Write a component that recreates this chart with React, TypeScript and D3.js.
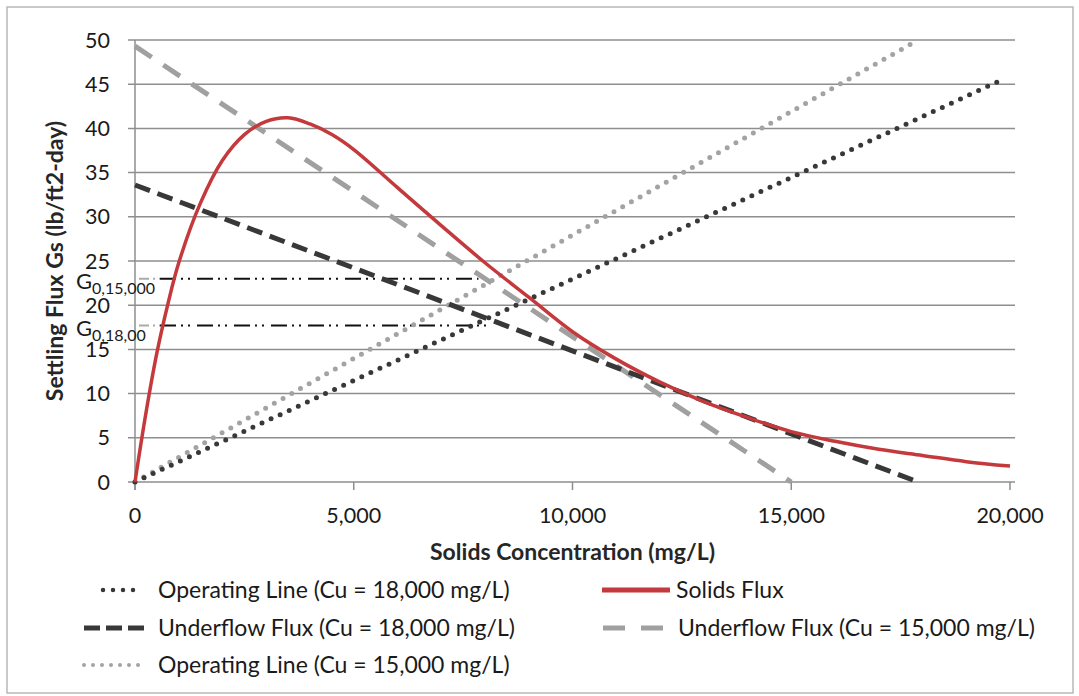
import React from 'react';
import * as d3 from 'd3';

// solids flux curve
const concentration = [0, 250, 500, 750, 1000, 1500, 2000, 2500, 3000, 3500, 4000, 4500, 5000, 6000, 7000, 8000, 9000, 10000, 11000, 12000, 13000, 14000, 15000, 16000, 17000, 18000, 19000, 20000];
const solidsFlux = [0, 7.8, 14.6, 20.1, 24.8, 31.6, 36.4, 39.3, 40.8, 41.2, 40.5, 39.3, 37.6, 33.3, 29, 24.8, 20.9, 17.0, 13.9, 11.3, 9.1, 7.3, 5.7, 4.6, 3.7, 3.0, 2.3, 1.8];

// straight lines (end points)
const opLine18C = [0, 19900];
const opLine18G = [0, 45.7];
const underflow18C = [0, 17900];
const underflow18G = [33.6, 0];
const underflow15C = [0, 15000];
const underflow15G = [49.3, 0];
const opLine15C = [0, 17900];
const opLine15G = [0, 50];

// G0 levels
const g0Labels = ['0,15,000', '0,18,00'];
const g0Values = [23.0, 17.7];
const g0EndC = [7850, 8050];

const yTicks = [0, 5, 10, 15, 20, 25, 30, 35, 40, 45, 50];
const xTicks = [0, 5000, 10000, 15000, 20000];

const legendItems = [
  'Operating Line (Cu = 18,000 mg/L)',
  'Underflow Flux (Cu = 18,000 mg/L)',
  'Operating Line (Cu = 15,000 mg/L)',
  'Solids Flux',
  'Underflow Flux (Cu = 15,000 mg/L)',
];

const FONT = 'Lato, "Open Sans", sans-serif';

export default function App() {
  const x = d3.scaleLinear().domain([0, 20000]).range([135, 1010]);
  const y = d3.scaleLinear().domain([0, 50]).range([482, 40]);

  const line = d3.line<[number, number]>().x(d => x(d[0])).y(d => y(d[1]));
  const curve = d3.line<[number, number]>().x(d => x(d[0])).y(d => y(d[1])).curve(d3.curveCatmullRom.alpha(0.5));
  const pts = (cs: number[], gs: number[]) => cs.map((c, i) => [c, gs[i]] as [number, number]);

  const fmt = d3.format(',');

  const dotDark = { stroke: '#383838', strokeWidth: 5, strokeDasharray: '0 10', strokeLinecap: 'round' as const };
  const dotLight = { stroke: '#a3a3a3', strokeWidth: 5, strokeDasharray: '0 10', strokeLinecap: 'round' as const };
  const dashDark = { stroke: '#383838', strokeWidth: 5, strokeDasharray: '16 8' };
  const dashLight = { stroke: '#a0a0a0', strokeWidth: 5, strokeDasharray: '20 14' };
  const red = { stroke: '#c4393c', strokeWidth: 3.5 };

  const rows = [598, 636, 673];

  return (
    <svg width={1079} height={696} style={{ position: 'absolute', left: 0, top: 0 }} fontFamily={FONT}>
      <rect x={0} y={0} width={1079} height={696} fill="#fff" />
      <rect x={7} y={7} width={1066} height={686} fill="none" stroke="#b8b8b8" strokeWidth={1.5} />

      {/* gridlines */}
      {yTicks.map(t => (
        <line key={t} x1={x(0) - 7} x2={x(20000) + 5} y1={y(t)} y2={y(t)} stroke="#8e8e8e" strokeWidth={1.5} />
      ))}
      <line x1={x(0)} x2={x(0)} y1={y(50)} y2={y(0) + 8} stroke="#8e8e8e" strokeWidth={1.5} />
      {xTicks.map(t => (
        <line key={t} x1={x(t)} x2={x(t)} y1={y(0)} y2={y(0) + 8} stroke="#8e8e8e" strokeWidth={1.5} />
      ))}

      {/* tick labels */}
      {yTicks.map(t => (
        <text key={t} x={110} y={y(t) + 7.5} textAnchor="end" fontSize={21.5} fill="#1a1a1a">{t}</text>
      ))}
      {xTicks.map(t => (
        <text key={t} x={x(t)} y={523} textAnchor="middle" fontSize={21.5} fill="#1a1a1a">{fmt(t)}</text>
      ))}

      {/* axis titles */}
      <text x={x(10000)} y={560} textAnchor="middle" fontSize={23} fontWeight="bold" fill="#262626">Solids Concentration (mg/L)</text>
      <text transform={`translate(63, ${y(25)}) rotate(-90)`} textAnchor="middle" fontSize={23} fontWeight="bold" fill="#262626">Settling Flux Gs (lb/ft2-day)</text>

      {/* G0 dash-dot lines */}
      {g0Values.map((g, i) => (
        <g key={i}>
          <line x1={x(0) + 4} x2={x(0) + 25} y1={y(g)} y2={y(g)} stroke="#aaa" strokeWidth={2} strokeDasharray="10 4 2 4" />
          <line x1={x(0) + 25} x2={x(g0EndC[i])} y1={y(g)} y2={y(g)} stroke="#111" strokeWidth={2} strokeDasharray="16 5 2 5 2 7" />
        </g>
      ))}

      {/* series */}
      <path d={line(pts(underflow15C, underflow15G)) || ''} fill="none" {...dashLight} />
      <path d={line(pts(opLine15C, opLine15G)) || ''} fill="none" {...dotLight} />
      <path d={line(pts(underflow18C, underflow18G)) || ''} fill="none" {...dashDark} />
      <path d={line(pts(opLine18C, opLine18G)) || ''} fill="none" {...dotDark} />
      <path d={curve(pts(concentration, solidsFlux)) || ''} fill="none" {...red} />

      {/* G0 labels */}
      {g0Values.map((g, i) => (
        <text key={i} x={76} y={y(g) + 10} fill="#1a1a1a">
          <tspan fontSize={22}>G</tspan>
          <tspan fontSize={16} dy={5}>{g0Labels[i]}</tspan>
        </text>
      ))}

      {/* legend */}
      <line x1={103} x2={143} y1={rows[0] - 8} y2={rows[0] - 8} {...dotDark} strokeWidth={4.5} />
      <line x1={84} x2={144} y1={rows[1] - 8} y2={rows[1] - 8} {...dashDark} strokeDasharray="16 6" />
      <line x1={84} x2={144} y1={rows[2] - 8} y2={rows[2] - 8} {...dotLight} strokeWidth={4} strokeDasharray="0 9" />
      <line x1={602} x2={670} y1={rows[0] - 8} y2={rows[0] - 8} {...red} strokeWidth={5} />
      <line x1={603} x2={664} y1={rows[1] - 8} y2={rows[1] - 8} {...dashLight} strokeDasharray="22 16" />
      <text x={158} y={rows[0]} fontSize={23} fill="#1a1a1a">{legendItems[0]}</text>
      <text x={158} y={rows[1]} fontSize={23} fill="#1a1a1a">{legendItems[1]}</text>
      <text x={158} y={rows[2]} fontSize={23} fill="#1a1a1a">{legendItems[2]}</text>
      <text x={676} y={rows[0]} fontSize={23} fill="#1a1a1a">{legendItems[3]}</text>
      <text x={678} y={rows[1]} fontSize={23} fill="#1a1a1a">{legendItems[4]}</text>
    </svg>
  );
}
